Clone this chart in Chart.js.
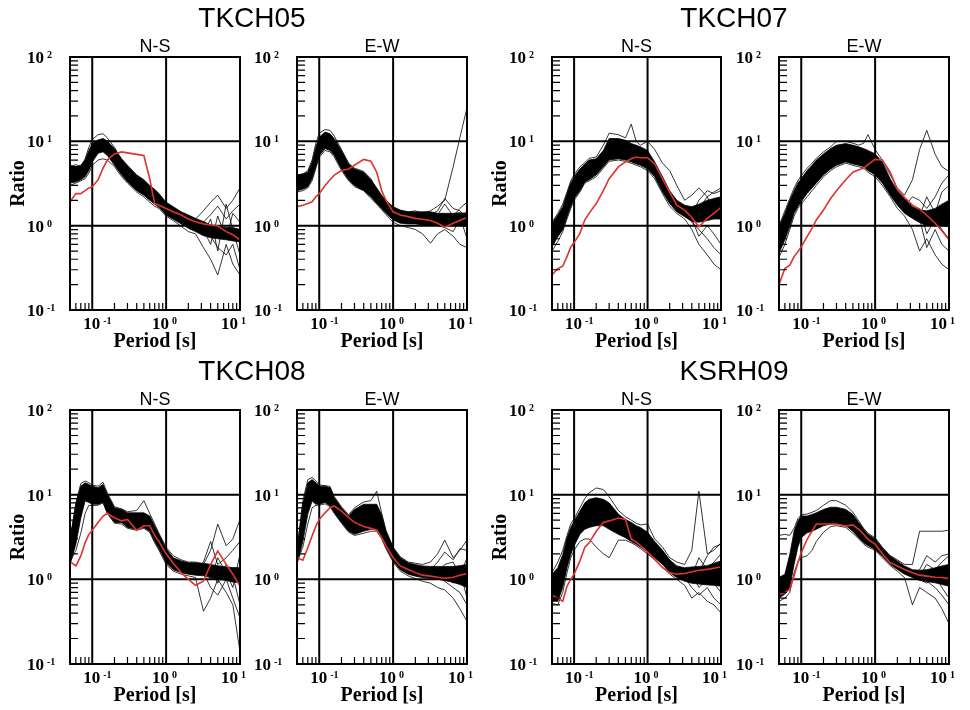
<!DOCTYPE html>
<html>
<head>
<meta charset="utf-8">
<script src="https://cdn.jsdelivr.net/npm/chart.js@4.4.0/dist/chart.umd.min.js"></script>
<style>
  html, body { margin: 0; padding: 0; background: #fff; }
  #wrap { position: relative; width: 970px; height: 710px; overflow: hidden; }
  #wrap canvas { position: absolute; left: 0; top: 0; }
</style>
</head>
<body>
<div id="wrap"></div>
<script>
// periodos comunes a todas las curvas (s)
const periods = [0.05, 0.06, 0.07, 0.08, 0.09, 0.1, 0.12, 0.14, 0.16, 0.2, 0.25, 0.3, 0.4, 0.5,
                 0.6, 0.7, 0.8, 1.0, 1.25, 1.6, 2.0, 2.5, 3.2, 4, 5, 6.5, 8, 10];
// exponentes de las etiquetas 10^n
const xTickExps = [-1, 0, 1];
const yTickExps = [-1, 0, 1, 2];

// ---- TKCH05 N-S
const tkch05NsHi = [5.2,5.0,5.2,6.0,7.8,9.4,10.4, 10.8,10.1,8.2,6.2,5.2,4.0,3.5, 3.0,2.7,2.4,1.9,1.68,1.46,1.34, 1.22,1.12,1.02,0.98,0.95,0.95,0.9];
const tkch05NsLo = [3.2,3.3,3.5,3.8,4.5,5.7,7.2, 7.5,6.8,5.2,4.0,3.3,2.6,2.3, 2.0,1.8,1.65,1.34,1.19,1.05,0.93, 0.85,0.76,0.72,0.7,0.68,0.66,0.64];
const tkch05NsA = [5.0,5.3,5.0,6.2,8.5,10.5,12.0, 12.3,11.0,8.5,6.0,5.0,3.9,3.4, 2.9,2.6,2.3,1.8,1.6,1.4,1.3, 1.2,1.5,1.9,2.3,1.6,2.0,2.8];
const tkch05NsB = [3.0,3.2,3.4,3.6,4.2,5.2,6.0, 6.2,6.0,5.0,3.8,3.2,2.5,2.2, 1.9,1.7,1.6,1.3,1.15,0.98,0.85, 0.8,0.55,0.4,0.26,0.6,0.35,0.26];
const tkch05NsC = [4.2,4.4,4.5,5.0,6.5,8.0,9.5, 9.6,9.0,7.0,5.0,4.2,3.2,2.8, 2.4,2.2,2.0,1.55,1.4,1.2,1.05, 1.0,0.8,1.2,0.5,1.8,0.9,0.45];
const tkch05NsD = [3.6,3.8,4.0,4.4,5.5,7.0,8.5, 9.0,8.5,6.5,4.6,3.8,3.0,2.6, 2.2,2.0,1.8,1.45,1.3,1.12,1.0, 0.9,0.9,0.6,1.3,0.7,1.4,1.1];
const tkch05NsE = [4.0,4.1,4.3,4.8,6.0,7.5,9.0, 9.2,8.4,6.6,5.0,4.1,3.2,2.8, 2.4,2.2,2.0,1.6,1.42,1.25,1.1, 1.0,0.9,0.75,0.55,0.45,0.6,0.3];
const tkch05NsF = [4.5,4.6,4.8,5.4,7.0,8.6,10.0, 10.0,9.3,7.4,5.4,4.5,3.5,3.0, 2.6,2.3,2.1,1.7,1.5,1.3,1.15, 1.05,1.1,1.35,1.7,1.2,1.5,1.8];
const tkch05NsRed = [1.92,2.4,2.4,2.6,2.8,2.9,3.5, 4.8,6.0,7.1,7.5,7.3,7.0,6.8, 3.6,1.83,1.75,1.6,1.46,1.34,1.2, 1.11,1.05,1.02,0.99,0.85,0.78,0.68];

// ---- TKCH05 E-W
const tkch05EwHi = [3.97,4.1,4.3,5.7,8.6,11.2,12.9, 12.3,10.7,7.8,5.4,4.7,4.3,3.5, 2.8,2.3,2.0,1.68,1.53,1.46,1.46, 1.46,1.46,1.4,1.4,1.4,1.42,1.4];
const tkch05EwLo = [2.6,2.7,2.9,3.6,5.0,6.8,8.2, 7.8,6.8,4.7,3.5,3.0,2.6,2.2, 1.83,1.6,1.4,1.17,1.07,1.05,1.05, 1.02,1.02,1.02,1.0,1.0,1.0,0.97];
const tkch05EwA = [4.0,4.1,4.5,6.0,9.5,12.5,13.8, 13.5,11.5,8.0,5.5,4.8,4.4,3.6, 2.7,2.2,1.9,1.6,1.5,1.45,1.5, 1.4,1.5,1.7,2.0,5.0,11.0,25];
const tkch05EwB = [2.5,2.6,2.8,3.4,4.8,6.5,7.8, 7.5,6.5,4.5,3.4,2.9,2.6,2.1, 1.8,1.55,1.35,1.1,1.0,0.95,0.9, 0.8,0.62,0.8,0.9,0.75,0.6,0.55];
const tkch05EwC = [3.4,3.5,3.7,4.6,7.0,9.5,11.0, 10.5,9.0,6.0,4.3,3.8,3.5,2.8, 2.3,1.9,1.65,1.35,1.25,1.2,1.2, 1.2,1.25,1.35,1.8,1.3,1.6,1.9];
const tkch05EwD = [3.0,3.1,3.3,4.0,6.0,8.0,9.5, 9.2,8.0,5.5,4.0,3.4,3.0,2.5, 2.0,1.75,1.5,1.25,1.15,1.1,1.1, 1.1,1.15,1.1,1.2,1.1,1.3,0.7];
const tkch05EwE = [3.2,3.3,3.5,4.4,6.5,8.7,10.3, 9.8,8.5,6.0,4.3,3.7,3.3,2.7, 2.2,1.9,1.65,1.4,1.25,1.2,1.25, 1.3,1.35,1.5,2.1,1.6,1.5,1.2];
const tkch05EwF = [3.6,3.7,3.9,5.0,7.5,10.0,11.5, 11.0,9.5,6.8,4.7,4.1,3.7,3.0, 2.4,2.0,1.75,1.45,1.3,1.25,1.2, 1.15,1.1,1.0,0.95,0.85,1.2,1.5];
const tkch05EwRed = [1.68,1.75,1.83,1.92,2.2,2.4,3.0, 3.5,3.97,4.5,4.7,5.2,6.1,5.8, 4.3,2.6,2.0,1.46,1.34,1.28,1.22, 1.19,1.15,1.07,0.96,1.07,1.15,1.25];

// ---- TKCH07 N-S
const tkch07NsHi = [1.07,1.34,1.68,2.4,3.2,3.8,4.7, 5.4,6.0,6.2,7.8,10.8,10.8,10.3, 9.4,9.0,8.6,7.8,5.7,3.8,2.6, 2.0,1.75,1.68,1.8,2.0,2.1,2.2];
const tkch07NsLo = [0.56,0.74,0.89,1.28,1.68,2.1,2.6, 3.3,3.5,4.0,5.0,6.0,6.2,6.0, 5.7,5.4,5.2,4.7,3.8,2.5,1.83, 1.46,1.28,1.12,1.1,1.15,1.2,1.2];
const tkch07NsA = [1.1,1.4,1.8,2.5,3.4,4.0,5.0, 5.6,6.3,6.5,9.0,12.5,12.0,11.0, 16.0,10.0,9.0,10.0,8.0,5.5,4.5, 3.0,2.0,2.3,2.8,2.2,2.5,2.8];
const tkch07NsB = [0.5,0.65,0.85,1.2,1.6,2.0,2.5, 3.2,3.4,3.8,4.8,5.8,6.0,5.8, 5.5,5.2,5.0,4.5,3.6,2.4,1.7, 1.4,1.2,0.9,0.6,0.45,0.35,0.3];
const tkch07NsC = [0.8,1.0,1.3,1.8,2.4,3.0,3.6, 4.3,4.7,5.0,6.3,8.0,8.5,8.0, 7.5,7.0,6.8,6.0,4.6,3.0,2.1, 1.7,1.5,1.3,1.6,2.2,1.5,1.9];
const tkch07NsD = [0.65,0.85,1.1,1.5,2.0,2.5,3.0, 3.8,4.0,4.5,5.6,7.0,7.2,7.0, 6.5,6.2,6.0,5.3,4.2,2.8,2.0, 1.6,1.4,1.2,0.75,1.0,0.8,0.6];
const tkch07NsE = [0.75,0.95,1.25,1.75,2.3,2.8,3.5, 4.2,4.5,5.0,6.3,8.2,8.4,8.0, 7.5,7.0,6.7,6.0,4.6,3.0,2.1, 1.7,1.5,1.35,2.0,2.6,2.4,2.6];
const tkch07NsF = [0.9,1.15,1.45,2.1,2.8,3.3,4.1, 4.8,5.2,5.5,7.0,9.0,9.0,8.7, 8.0,7.6,7.2,6.5,5.0,3.2,2.2, 1.8,1.55,1.1,0.9,0.7,0.55,0.45];
const tkch07NsRed = [0.26,0.31,0.33,0.43,0.56,0.63,0.81, 1.17,1.4,1.83,2.6,3.6,4.97,5.7, 6.2,6.5,6.4,6.4,5.4,3.6,2.5, 1.75,1.53,1.25,0.97,1.22,1.4,1.65];

// ---- TKCH07 E-W
const tkch07EwHi = [0.97,1.4,2.0,2.6,3.2,3.6,4.5, 5.2,6.0,7.1,8.2,9.0,9.4,9.0, 8.6,8.2,7.8,7.1,5.7,3.6,2.6, 2.1,1.68,1.53,1.5,1.6,1.8,2.0];
const tkch07EwLo = [0.47,0.68,0.97,1.4,1.68,1.92,2.4, 2.8,3.2,4.0,4.7,5.2,5.7,5.4, 5.2,5.0,4.5,4.0,3.2,2.3,1.75, 1.4,1.22,1.09,1.0,1.0,1.0,0.97];
const tkch07EwA = [1.0,1.5,2.1,2.8,3.4,3.9,4.8, 5.5,6.3,7.5,8.6,10.0,10.0,9.5, 9.0,9.5,12.0,8.0,6.0,4.0,2.8, 2.3,3.5,8.0,13.5,7.0,5.0,4.4];
const tkch07EwB = [0.42,0.6,0.9,1.3,1.6,1.8,2.2, 2.6,3.0,3.8,4.5,5.0,5.5,5.2, 5.0,4.8,4.3,3.8,3.0,2.2,1.6, 1.3,0.9,0.5,0.7,0.45,0.35,0.3];
const tkch07EwC = [0.7,1.0,1.4,1.9,2.4,2.7,3.3, 3.9,4.5,5.4,6.4,7.0,7.5,7.2, 6.8,6.5,6.2,5.6,4.5,3.0,2.1, 1.7,1.45,1.3,2.2,1.4,2.5,3.0];
const tkch07EwD = [0.6,0.85,1.2,1.6,2.0,2.3,2.8, 3.3,3.8,4.7,5.5,6.0,6.5,6.2, 6.0,5.8,5.5,5.0,4.0,2.7,2.0, 1.6,1.3,1.6,0.8,1.2,0.9,0.7];
const tkch07EwE = [0.65,0.95,1.35,1.9,2.3,2.6,3.2, 3.8,4.3,5.3,6.2,6.8,7.3,7.0, 6.7,6.4,6.0,5.4,4.3,2.9,2.1, 1.7,2.2,2.0,1.6,2.2,3.2,4.0];
const tkch07EwF = [0.8,1.15,1.6,2.2,2.7,3.0,3.7, 4.3,4.9,6.0,7.0,7.6,8.0,7.7, 7.4,7.1,6.8,6.2,4.9,3.2,2.3, 1.9,1.5,1.2,0.55,0.9,0.6,0.5];
const tkch07EwRed = [0.2,0.31,0.34,0.43,0.49,0.56,0.74, 0.93,1.17,1.53,2.1,2.6,3.5,4.3, 4.6,4.8,5.3,6.1,6.0,4.3,2.7, 2.16,1.75,1.57,1.33,1.07,0.87,0.68];

// ---- TKCH08 N-S
const tkch08NsHi = [3.0,7.7,12.6,13.8,13.2,12.6,12.1, 13.2,10.1,7.0,6.7,6.1,6.1,6.1, 5.6,4.3,3.4,2.3,1.8,1.65,1.57, 1.57,1.55,1.5,1.45,1.4,1.38,1.37];
const tkch08NsLo = [1.5,2.6,5.3,8.4,8.1,7.7,7.7, 8.1,6.1,4.7,4.7,4.1,3.9,4.1, 3.7,2.8,2.3,1.57,1.3,1.2,1.15, 1.12,1.1,1.05,1.0,0.97,0.93,0.91];
const tkch08NsA = [2.8,8.0,13.5,14.5,13.8,13.0,12.6, 14.0,10.5,7.2,6.8,6.3,6.5,8.5, 6.0,4.5,3.5,2.4,1.9,1.7,1.6, 1.6,1.5,2.2,4.5,2.5,3.0,5.1];
const tkch08NsB = [1.6,2.2,3.5,6.0,7.5,7.4,7.5, 8.0,6.0,4.6,4.5,4.0,3.8,4.0, 3.6,2.7,2.2,1.5,1.25,1.15,1.1, 1.05,0.42,0.6,1.0,0.7,0.5,0.14];
const tkch08NsC = [2.2,5.5,10.0,12.0,11.0,10.5,10.0, 11.0,8.0,5.8,5.7,5.0,5.0,5.0, 4.5,3.5,2.8,1.9,1.55,1.4,1.35, 1.3,1.4,1.0,1.8,1.2,0.8,2.0];
const tkch08NsD = [1.9,4.0,8.0,10.0,9.5,9.0,9.0, 9.5,7.0,5.2,5.2,4.5,4.4,4.5, 4.0,3.1,2.5,1.7,1.4,1.3,1.25, 1.2,1.25,1.3,0.9,1.5,1.1,0.5];
const tkch08NsE = [2.0,5.0,9.0,11.0,10.3,9.8,9.5, 10.2,7.8,5.7,5.5,4.9,4.8,4.9, 4.4,3.4,2.7,1.85,1.5,1.4,1.35, 1.3,1.6,2.8,1.5,1.8,2.2,2.8];
const tkch08NsF = [2.4,6.0,11.0,12.5,12.0,11.3,10.8, 12.0,9.0,6.3,6.1,5.4,5.3,5.4, 5.0,3.8,3.0,2.0,1.6,1.45,1.4, 1.35,1.2,0.8,0.65,1.0,0.6,0.35];
const tkch08NsRed = [1.62,1.44,1.89,2.7,3.4,3.8,4.7, 5.6,6.0,5.35,4.9,5.1,3.8,4.3, 4.3,3.3,2.8,2.0,1.55,1.2,1.0, 0.85,0.95,1.5,2.16,1.5,1.15,0.83];

// ---- TKCH08 E-W
const tkch08EwHi = [2.16,7.7,13.8,15.1,13.8,12.6,12.6, 12.1,9.2,7.0,5.6,6.7,7.7,7.7, 7.7,5.8,3.7,2.36,1.8,1.57,1.5, 1.44,1.42,1.42,1.42,1.42,1.45,1.5];
const tkch08EwLo = [1.5,2.8,5.9,8.4,7.7,7.7,8.1, 7.4,6.1,4.7,3.7,3.4,3.7,3.9, 3.9,3.1,2.4,1.65,1.3,1.15,1.09, 1.05,1.03,1.0,0.97,0.92,0.87,0.8];
const tkch08EwA = [2.3,8.5,15.0,16.0,14.5,13.0,12.8, 12.5,9.5,7.2,5.8,7.0,8.2,8.5, 11.0,6.0,3.8,2.4,1.85,1.6,1.55, 1.5,1.6,2.0,2.9,1.8,2.2,2.9];
const tkch08EwB = [1.6,2.4,4.5,7.0,7.5,7.5,7.8, 7.2,6.0,4.6,3.6,3.3,3.5,3.7, 3.7,3.0,2.3,1.6,1.25,1.1,1.02, 0.95,0.9,0.8,0.75,0.6,0.45,0.32];
const tkch08EwC = [1.9,5.5,11.0,13.0,12.0,11.0,11.0, 10.5,8.0,6.0,4.8,5.5,6.0,6.2, 6.0,4.8,3.2,2.0,1.6,1.4,1.3, 1.3,1.4,1.2,1.5,1.6,1.1,1.8];
const tkch08EwD = [1.7,4.0,8.5,11.0,10.0,9.5,9.5, 9.0,7.0,5.3,4.2,4.3,4.8,5.0, 4.9,4.0,2.8,1.8,1.45,1.25,1.2, 1.15,1.15,1.3,1.1,0.9,1.3,0.6];
const tkch08EwE = [1.8,4.8,10.0,12.0,11.0,10.3,10.5, 10.0,7.6,5.8,4.6,4.8,5.5,5.8, 5.6,4.5,3.0,1.95,1.55,1.35,1.28, 1.25,1.3,1.6,2.1,1.7,2.3,2.2];
const tkch08EwF = [2.0,6.2,12.0,14.0,12.8,11.5,11.5, 11.0,8.5,6.4,5.1,6.0,6.8,6.9, 6.8,5.2,3.4,2.1,1.65,1.45,1.35, 1.3,1.2,1.05,0.95,0.8,0.7,0.5];
const tkch08EwRed = [1.8,1.68,2.36,3.25,4.25,5.1,6.1, 7.0,7.35,6.4,5.35,4.7,4.2,4.0, 3.8,3.1,2.5,1.8,1.44,1.31,1.2, 1.12,1.09,1.06,1.03,1.06,1.12,1.17];

// ---- KSRH09 N-S
const ksrh09NsHi = [1.15,1.37,1.97,3.1,4.1,4.9,6.4, 8.0,8.8,9.2,8.8,8.0,5.9,5.1, 4.7,4.3,4.1,3.6,2.8,2.2,1.7, 1.44,1.37,1.4,1.42,1.45,1.55,1.65];
const ksrh09NsLo = [0.55,0.55,0.8,1.37,1.97,2.5,3.4, 3.9,4.1,4.3,4.3,3.9,3.4,3.1, 2.8,2.6,2.4,2.1,1.8,1.5,1.2, 1.05,0.95,0.9,0.88,0.86,0.85,0.83];
const ksrh09NsA = [1.2,1.6,2.2,3.3,4.5,5.2,7.0, 9.0,10.5,12.0,11.5,9.5,6.5,5.5, 5.0,4.6,4.4,4.5,3.0,2.4,1.8, 1.6,1.5,2.2,11.0,2.0,2.2,2.7];
const ksrh09NsB = [0.52,0.5,0.7,1.2,1.8,2.2,2.8, 3.0,3.0,2.4,2.0,1.8,2.9,2.9, 2.7,2.5,2.3,2.0,1.7,1.4,1.15, 1.0,0.85,0.6,0.7,0.55,0.5,0.4];
const ksrh09NsC = [0.8,1.0,1.4,2.2,3.0,3.6,4.8, 6.0,6.5,7.0,6.8,6.0,4.6,4.0, 3.7,3.4,3.2,2.8,2.3,1.8,1.45, 1.25,1.2,1.1,1.8,1.3,1.6,2.0];
const ksrh09NsD = [0.65,0.75,1.05,1.7,2.4,3.0,4.0, 4.8,5.2,5.5,5.4,5.0,4.0,3.5, 3.2,3.0,2.8,2.4,2.0,1.65,1.3, 1.1,1.0,1.2,0.8,1.0,0.9,0.7];
const ksrh09NsE = [0.75,0.85,1.2,2.0,2.8,3.4,4.5, 5.6,6.0,6.3,6.2,5.6,4.4,3.8, 3.5,3.2,3.0,2.6,2.2,1.75,1.4, 1.2,1.15,1.4,1.2,1.9,2.4,2.6];
const ksrh09NsF = [0.9,1.1,1.6,2.6,3.5,4.2,5.6, 6.8,7.5,8.0,7.8,7.0,5.2,4.5, 4.1,3.8,3.6,3.1,2.5,2.0,1.55, 1.3,1.05,0.8,0.65,0.8,0.6,0.5];
const ksrh09NsRed = [0.65,0.6,0.55,0.83,1.0,1.15,1.65, 2.4,2.7,3.7,4.7,4.9,5.3,5.1, 3.0,2.75,2.5,2.1,1.72,1.37,1.2, 1.15,1.17,1.23,1.28,1.31,1.35,1.4];

// ---- KSRH09 E-W
const ksrh09EwHi = [1.05,1.15,1.97,3.7,4.9,5.6,5.6, 5.85,6.1,6.7,7.1,7.1,6.7,5.85, 4.7,3.9,3.4,3.0,2.36,1.88,1.65, 1.44,1.3,1.28,1.3,1.37,1.44,1.5];
const ksrh09EwLo = [0.6,0.67,0.8,1.5,2.4,3.1,3.55, 3.7,3.9,4.3,4.5,4.5,4.3,3.7, 3.1,2.7,2.5,2.26,1.88,1.5,1.31, 1.15,1.05,0.97,0.94,0.91,0.87,0.83];
const ksrh09EwA = [3.3,3.4,3.3,4.0,5.2,5.8,5.9, 6.2,6.5,7.5,8.5,8.5,7.5,6.2, 4.9,4.0,3.5,3.1,2.4,1.9,1.7, 1.5,1.5,3.7,3.7,3.7,3.7,3.8];
const ksrh09EwB = [0.55,0.6,0.7,1.2,1.6,1.8,1.9, 2.2,2.8,3.6,4.2,4.3,4.1,3.5, 3.0,2.6,2.4,2.2,1.8,1.45,1.25, 1.05,0.5,0.8,0.7,0.6,0.45,0.3];
const ksrh09EwC = [0.85,0.95,1.5,2.8,4.0,4.8,5.0, 5.2,5.4,5.8,6.0,6.0,5.8,5.0, 4.0,3.4,3.0,2.7,2.1,1.7,1.5, 1.3,1.2,1.1,1.5,1.3,1.6,1.9];
const ksrh09EwD = [0.7,0.8,1.2,2.2,3.2,4.0,4.3, 4.5,4.7,5.2,5.5,5.5,5.2,4.4, 3.6,3.1,2.8,2.5,2.0,1.6,1.4, 1.2,1.1,1.0,0.9,1.1,0.8,0.6];
const ksrh09EwE = [0.75,0.85,1.35,2.5,3.6,4.4,4.7, 4.9,5.1,5.5,5.8,5.8,5.5,4.7, 3.8,3.2,2.9,2.6,2.05,1.65,1.45, 1.25,1.15,1.3,1.9,1.6,1.9,2.0];
const ksrh09EwF = [0.95,1.05,1.75,3.2,4.5,5.2,5.3, 5.5,5.8,6.3,6.6,6.6,6.2,5.4, 4.4,3.7,3.2,2.85,2.25,1.8,1.55, 1.35,1.25,1.15,0.95,0.8,0.65,0.5];
const ksrh09EwRed = [0.66,0.7,0.76,1.1,1.57,2.06,2.97, 3.7,4.5,4.5,4.5,4.5,4.25,4.4, 3.9,3.4,2.97,2.6,2.0,1.57,1.44, 1.31,1.2,1.12,1.09,1.06,1.05,1.02];

const RED = 'rgb(221,52,45)';
const SERIF = '"Liberation Serif", "Times New Roman", serif';
const SANS = '"Liberation Sans", Arial, sans-serif';

// posicion de cada panel en la pagina
const panels = [
  {station: 'TKCH05', titleX: 252, comp: 'N-S', left: 70, right: 240, top: 57, bottom: 310, ratio: true,
   red: tkch05NsRed, hi: tkch05NsHi, lo: tkch05NsLo,
   traces: [tkch05NsA, tkch05NsB, tkch05NsC, tkch05NsD, tkch05NsE, tkch05NsF]},
  {comp: 'E-W', left: 297, right: 467, top: 57, bottom: 310,
   red: tkch05EwRed, hi: tkch05EwHi, lo: tkch05EwLo,
   traces: [tkch05EwA, tkch05EwB, tkch05EwC, tkch05EwD, tkch05EwE, tkch05EwF]},
  {station: 'TKCH07', titleX: 734, comp: 'N-S', left: 552, right: 721, top: 57, bottom: 310, ratio: true,
   red: tkch07NsRed, hi: tkch07NsHi, lo: tkch07NsLo,
   traces: [tkch07NsA, tkch07NsB, tkch07NsC, tkch07NsD, tkch07NsE, tkch07NsF]},
  {comp: 'E-W', left: 779, right: 949, top: 57, bottom: 310,
   red: tkch07EwRed, hi: tkch07EwHi, lo: tkch07EwLo,
   traces: [tkch07EwA, tkch07EwB, tkch07EwC, tkch07EwD, tkch07EwE, tkch07EwF]},
  {station: 'TKCH08', titleX: 252, comp: 'N-S', left: 70, right: 240, top: 410, bottom: 664, ratio: true,
   red: tkch08NsRed, hi: tkch08NsHi, lo: tkch08NsLo,
   traces: [tkch08NsA, tkch08NsB, tkch08NsC, tkch08NsD, tkch08NsE, tkch08NsF]},
  {comp: 'E-W', left: 297, right: 467, top: 410, bottom: 664,
   red: tkch08EwRed, hi: tkch08EwHi, lo: tkch08EwLo,
   traces: [tkch08EwA, tkch08EwB, tkch08EwC, tkch08EwD, tkch08EwE, tkch08EwF]},
  {station: 'KSRH09', titleX: 734, comp: 'N-S', left: 552, right: 721, top: 410, bottom: 664, ratio: true,
   red: ksrh09NsRed, hi: ksrh09NsHi, lo: ksrh09NsLo,
   traces: [ksrh09NsA, ksrh09NsB, ksrh09NsC, ksrh09NsD, ksrh09NsE, ksrh09NsF]},
  {comp: 'E-W', left: 779, right: 949, top: 410, bottom: 664,
   red: ksrh09EwRed, hi: ksrh09EwHi, lo: ksrh09EwLo,
   traces: [ksrh09EwA, ksrh09EwB, ksrh09EwC, ksrh09EwD, ksrh09EwE, ksrh09EwF]}
];

// "10" con exponente pequeño arriba
function drawPow(ctx, x, yMid, e) {
  ctx.textAlign = 'left';
  ctx.textBaseline = 'alphabetic';
  ctx.font = 'bold 17px ' + SERIF;
  ctx.fillText('10', x, yMid + 6);
  const w = ctx.measureText('10').width;
  ctx.font = 'bold 10px ' + SERIF;
  ctx.fillText(String(e), x + w + 3, yMid + 1);
}

function makeFrame(p) {
  return {
    id: 'frame',
    beforeDatasetsDraw(chart) {
      const {ctx, chartArea: a, scales: {x, y}} = chart;
      ctx.save();
      ctx.strokeStyle = '#000';
      ctx.lineWidth = 2;
      ctx.beginPath();
      xTickExps.forEach(e => {
        const px = x.getPixelForValue(Math.pow(10, e));
        ctx.moveTo(px, a.top); ctx.lineTo(px, a.bottom);
      });
      yTickExps.forEach(e => {
        const py = y.getPixelForValue(Math.pow(10, e));
        ctx.moveTo(a.left, py); ctx.lineTo(a.right, py);
      });
      ctx.stroke();
      ctx.restore();
    },
    afterDraw(chart) {
      const {ctx, chartArea: a, scales: {x, y}} = chart;
      ctx.save();
      ctx.strokeStyle = '#000';
      ctx.fillStyle = '#000';
      // marco
      ctx.lineWidth = 2;
      ctx.strokeRect(a.left, a.top, a.right - a.left, a.bottom - a.top);
      // marcas menores hacia dentro (eje izquierdo y eje inferior)
      ctx.lineWidth = 1.2;
      ctx.beginPath();
      [0.1, 1, 10].forEach(d => {
        for (let k = 2; k <= 9; k++) {
          const py = y.getPixelForValue(k * d);
          ctx.moveTo(a.left, py); ctx.lineTo(a.left + 8, py);
        }
      });
      [0.01, 0.1, 1].forEach(d => {
        for (let k = 2; k <= 9; k++) {
          const v = k * d;
          if (v < 0.05 || v > 10) continue;
          const px = x.getPixelForValue(v);
          ctx.moveTo(px, a.bottom); ctx.lineTo(px, a.bottom - 7);
        }
      });
      ctx.stroke();
      // etiquetas eje Y
      yTickExps.forEach(e => drawPow(ctx, a.left - 43, y.getPixelForValue(Math.pow(10, e)), e));
      // etiquetas eje X
      const shift = {'-1': -9, '0': -14, '1': -19};
      xTickExps.forEach(e => drawPow(ctx, x.getPixelForValue(Math.pow(10, e)) + shift[e], a.bottom + 13, e));
      const cx = (a.left + a.right) / 2;
      // titulo eje X
      ctx.font = 'bold 20px ' + SERIF;
      ctx.textAlign = 'center';
      ctx.textBaseline = 'alphabetic';
      ctx.fillText('Period [s]', cx, a.bottom + 37);
      // componente
      ctx.font = '18px ' + SANS;
      ctx.fillText(p.comp, cx, a.top - 5);
      // estacion
      if (p.station) {
        ctx.font = '28px ' + SANS;
        ctx.fillText(p.station, p.titleX, a.top - 30);
      }
      // titulo eje Y
      if (p.ratio) {
        ctx.translate(a.left - 51, (a.top + a.bottom) / 2);
        ctx.rotate(-Math.PI / 2);
        ctx.font = 'bold 20px ' + SERIF;
        ctx.textBaseline = 'middle';
        ctx.fillText('Ratio', 0, 0);
      }
      ctx.restore();
    }
  };
}

const wrap = document.getElementById('wrap');

panels.forEach(p => {
  const cv = document.createElement('canvas');
  cv.width = 970;
  cv.height = 710;
  cv.style.width = '970px';
  cv.style.height = '710px';
  wrap.appendChild(cv);

  // el primero se dibuja encima: la roja primero
  const datasets = [
    {data: p.red, borderColor: RED, borderWidth: 1.6},
    {data: p.hi, borderColor: '#000', borderWidth: 0.8},
    {data: p.lo, borderColor: '#000', borderWidth: 0.8, fill: '-1', backgroundColor: '#000'}
  ];
  p.traces.forEach(t => datasets.push({data: t, borderColor: '#000', borderWidth: 0.8}));

  new Chart(cv, {
    type: 'line',
    data: {labels: periods, datasets: datasets},
    options: {
      responsive: false,
      animation: false,
      devicePixelRatio: 1,
      layout: {padding: {left: p.left, top: p.top, right: 970 - p.right, bottom: 710 - p.bottom}},
      elements: {point: {radius: 0}, line: {tension: 0}},
      plugins: {legend: {display: false}, tooltip: {enabled: false}},
      scales: {
        x: {type: 'logarithmic', min: 0.05, max: 10, display: false},
        y: {type: 'logarithmic', min: 0.1, max: 100, display: false}
      }
    },
    plugins: [makeFrame(p)]
  });
});
</script>
</body>
</html>
